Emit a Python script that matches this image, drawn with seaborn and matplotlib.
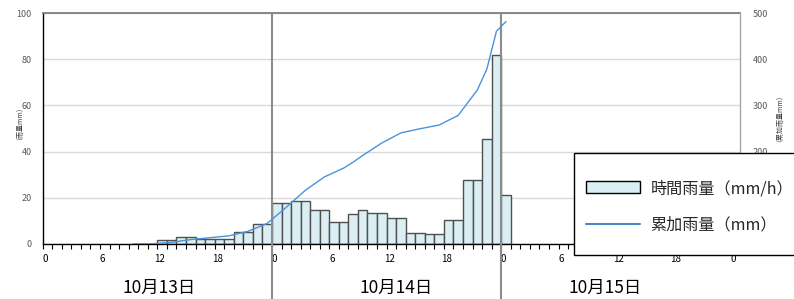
import numpy as np
import pandas as pd
import matplotlib
matplotlib.use("Agg")
import matplotlib.pyplot as plt
import seaborn as sns
from matplotlib.patches import Rectangle, Patch
from matplotlib.lines import Line2D
from matplotlib.transforms import ScaledTranslation

# ---- data ----
# hour index counted from 10/13 0:00 (bar spans hour h .. h+1)
rain_hours = list(range(12, 49))
rain_mm_h = [1.5, 1.5, 3, 3, 2, 2, 2, 2, 5, 5, 8.5, 8.5,
             17.5, 17.5, 18.5, 18.5, 14.5, 14.5, 9.5, 9.5, 13, 14.5, 13.5, 13.5,
             11, 11, 4.5, 4.5, 4, 4, 10.5, 10.5, 27.5, 27.5, 45.5, 82,
             21]
# cumulative rainfall, plotted at the centre of each hour
cum_hours = [9.5, 10.5, 11.5, 12.5, 13.5, 14.5, 15.5, 16.5, 17.5, 18.5, 19.5,
             20.5, 21.5, 22.5, 23.5, 24.5, 25.5, 26.5, 27.5, 28.5, 29.5, 30.5,
             31.5, 32.5, 33.5, 34.5, 35.5, 36.5, 37.5, 38.5, 39.5, 40.5, 41.5,
             42.5, 43.5, 44.5, 45.5, 46.5, 47.5, 48.5]
cum_mm = [0, 0, 0, 1.5, 3, 6, 9, 11, 13, 15, 17,
          22, 27, 35.5, 44, 61.5, 79, 97.5, 116, 130.5, 145, 154.5,
          164, 177, 191.5, 205, 218.5, 229.5, 240.5, 245, 249.5, 253.5, 257.5,
          268, 278.5, 306, 333.5, 379, 461, 482]
day_labels = ["10月13日", "10月14日", "10月15日"]
day_label_pos = [12.2, 37.0, 58.9]
day_breaks = [24, 48]
left_ticks = [0, 20, 40, 60, 80, 100]
right_ticks = [0, 100, 200, 300, 400, 500]
right_tick_labels = ["", "", "200", "300", "400", "500"]  # lower ones sit under the legend
legend_labels = ["時間雨量（mm/h）", "累加雨量（mm）"]
left_label = "（雨量mm）"
right_label = "（累加雨量mm）"

sns.set_style("white")
plt.rcParams["font.family"] = ["Noto Sans CJK JP", "DejaVu Sans"]

fig = plt.figure(figsize=(7.94, 2.99), dpi=100)
ax = fig.add_axes([42.7 / 794, 1 - 243.7 / 299, (740 - 42.7) / 794, 230.4 / 299])

bar_df = pd.DataFrame({"hour": np.array(rain_hours, dtype=float) + 0.5,
                       "rain": rain_mm_h})
sns.histplot(data=bar_df, x="hour", weights="rain", binwidth=1,
             binrange=(12, 49), ax=ax, color="#DAEEF3", edgecolor="#505050",
             linewidth=1.0, alpha=1.0, zorder=2)

ax.set_xlim(0, 73)
ax.set_ylim(0, 100)
ax.set_yticks(left_ticks)
ax.yaxis.grid(True, color="#d9d9d9", linewidth=1.0, zorder=0)
ax.set_axisbelow(True)
ax.tick_params(axis="y", length=0, pad=8, labelsize=6.5, labelcolor="#595959")

hours_all = list(range(0, 74))
ax.set_xticks(hours_all)
ax.set_xticklabels([str(h % 24) if (h % 6 == 0 and h <= 72) else "" for h in hours_all])
ax.tick_params(axis="x", direction="out", length=3.5, width=0.8, color="black",
               pad=4, labelsize=7, labelcolor="black", bottom=True)
off = ScaledTranslation(2.5 / 100, 0, fig.dpi_scale_trans)
for lbl in ax.get_xticklabels():
    lbl.set_transform(lbl.get_transform() + off)

ax.set_xlabel("")
ax.set_ylabel(left_label, fontsize=5, color="#404040")
ax.yaxis.set_label_coords(-0.033, 0.537)

for s in ["left", "bottom"]:
    ax.spines[s].set_color("black")
    ax.spines[s].set_linewidth(1.0)
ax.spines["top"].set_color("#7f7f7f")
ax.spines["top"].set_linewidth(1.3)
ax.spines["right"].set_visible(False)

for b in day_breaks:
    ax.axvline(b, ymin=-0.24, ymax=1.0, color="#8c8c8c", linewidth=1.5,
               clip_on=False, zorder=5)

for lab, pos in zip(day_labels, day_label_pos):
    ax.text(pos, -0.19, lab, transform=ax.get_xaxis_transform(),
            ha="center", va="center", fontsize=12.5, color="black")

ax2 = ax.twinx()
sns.lineplot(x=cum_hours, y=cum_mm, ax=ax2, color="#4a93dc", linewidth=1.0)
ax2.set_ylim(0, 500)
ax2.set_xlim(0, 73)
ax2.set_yticks(right_ticks)
ax2.set_yticklabels(right_tick_labels)
ax2.tick_params(axis="y", length=0, pad=9, labelsize=6.5, labelcolor="#595959")
ax2.set_ylabel(right_label, fontsize=5, color="#404040")
ax2.yaxis.set_label_coords(1.046, 0.56)
for s in ["left", "top", "bottom"]:
    ax2.spines[s].set_visible(False)
ax2.spines["right"].set_color("#a6a6a6")
ax2.spines["right"].set_linewidth(1.0)
ax2.grid(False)

# legend box (runs off the right edge like the reference)
fig.add_artist(Rectangle((574.3 / 794, 1 - 255 / 299), (810 - 574.3) / 794,
                         (255 - 153.3) / 299, transform=fig.transFigure,
                         facecolor="white", edgecolor="black", linewidth=1.0,
                         zorder=3))
handles = [Patch(facecolor="#DAEEF3", edgecolor="black", linewidth=1.0),
           Line2D([0], [0], color="#4a86c8", linewidth=1.5)]
fig.legend(handles, legend_labels, loc="upper left",
           bbox_to_anchor=(586 / 794, 1 - 180 / 299), frameon=False,
           fontsize=11.6, borderpad=0, borderaxespad=0, handlelength=3.35,
           handleheight=0.78, handletextpad=0.65, labelspacing=1.21)

fig.savefig("out.png", dpi=100)
